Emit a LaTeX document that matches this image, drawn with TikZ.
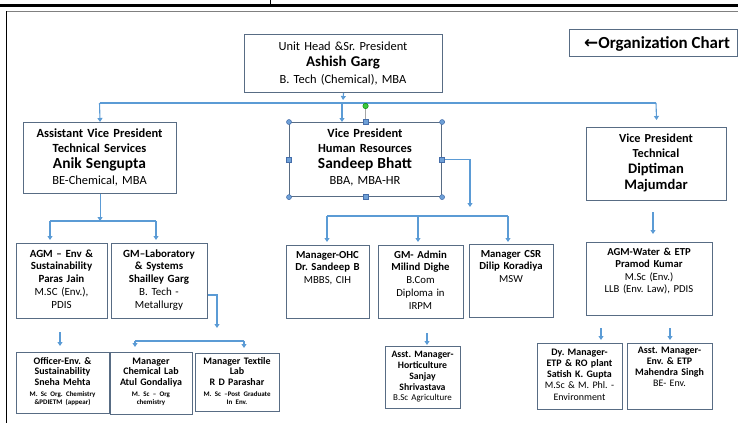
\documentclass[tikz,border=0pt]{standalone}
\usepackage{fontspec}
\setmainfont{Carlito}
\newfontfamily\symf{DejaVu Sans}
\usetikzlibrary{arrows.meta}
\definecolor{conn}{RGB}{91,155,213}
\definecolor{boxc}{RGB}{88,108,132}
\definecolor{hdl}{RGB}{110,160,215}
\definecolor{hdlb}{RGB}{70,110,170}
\definecolor{grn}{RGB}{60,200,60}
\tikzset{
 box/.style={draw=boxc, line width=1.1bp, fill=white, inner sep=0pt},
 txt/.style={inner sep=0pt, anchor=base},
 ln/.style={draw=conn, line width=1.1bp},
 arr/.style={ln, -{Triangle[width=5bp,length=4bp]}},
 frm/.style={draw=black, line width=1.3bp},
 hcirc/.style={circle, fill=hdl, draw=hdlb, line width=0.5bp, minimum size=5bp, inner sep=0pt},
 hsq/.style={rectangle, fill=hdl, draw=hdlb, line width=0.5bp, minimum size=5bp, inner sep=0pt},
}
\newcommand\obox[5]{%
 \pgfmathsetmacro\bw{#4-#2}\pgfmathsetmacro\bh{#5-#3}%
 \node[box, minimum width=\bw bp, minimum height=\bh bp, anchor=north west] (#1) at (#2,#3) {};}
\newcommand\bfs[1]{\fontsize{#1}{#1}\selectfont\bfseries}
\newcommand\tny[1]{{\fontsize{7}{7}\selectfont #1}}
\newcommand\ctr[1]{\frenchspacing\centering #1\par}
\begin{document}
\begin{tikzpicture}[x=1bp,y=-1bp]
\useasboundingbox (0,0) rectangle (738,423);
% frame
\draw[black, line width=2.5bp] (0,5.5) -- (738,5.5);
\draw[black, line width=1.5bp] (270.5,0) -- (270.5,5);
\draw[gray, line width=1bp] (6,11.5) -- (738,11.5);
\draw[frm] (6.5,11) -- (6.5,423);

% organization chart label
\obox{org}{569}{29}{736.5}{56}
\node[txt, font=\fontsize{17}{18}\selectfont\bfseries] (org-t) at (657,48) {{\symf\bfseries ←}Organization Chart};

% level 1
\obox{top}{244}{34}{442}{92}
\node[txt, text width=196bp, font=\fontsize{12.5}{17}\selectfont] (top-t) at (343,50)
 {\ctr{Unit Head \&Sr. President\\{\bfs{15}Ashish Garg}\\B. Tech (Chemical), MBA}};

% level 2
\obox{avp}{23}{122}{176}{193}
\node[txt, text width=151bp, font=\fontsize{12.5}{16}\selectfont] (avp-t) at (99.5,137)
 {\ctr{\textbf{Assistant Vice President}\\\textbf{Technical Services}\\{\bfs{15.5}Anik Sengupta}\\BE-Chemical, MBA}};
\obox{vphr}{289}{122}{441}{196}
\node[txt, text width=150bp, font=\fontsize{12.5}{16}\selectfont] (vphr-t) at (365,137)
 {\ctr{\textbf{Vice President}\\\textbf{Human Resources}\\{\bfs{15.5}Sandeep Bhatt}\\BBA, MBA-HR}};
\obox{vpt}{586}{127}{726}{200}
\node[txt, text width=138bp, font=\fontsize{12.3}{16}\selectfont\bfseries] (vpt-t) at (656,142)
 {\ctr{Vice President\\Technical\\{\bfs{14.6}Diptiman}\\{\bfs{14.6}Majumdar}}};

% level 3
\obox{agm}{16}{243}{107}{318}
\node[txt, text width=90bp, font=\fontsize{11}{12.8}\selectfont] (agm-t) at (61.5,257)
 {\ctr{\textbf{AGM – Env \&}\\\textbf{Sustainability}\\\textbf{Paras Jain}\\M.SC (Env.),\\PDIS}};
\obox{gml}{111}{243}{207}{318}
\node[txt, text width=95bp, font=\fontsize{11}{12.8}\selectfont] (gml-t) at (159,257)
 {\ctr{\textbf{GM–Laboratory}\\\textbf{\& Systems}\\\textbf{Shailley Garg}\\B. Tech -\\Metallurgy}};
\obox{ohc}{286}{245}{369}{318}
\node[txt, text width=82bp, font=\fontsize{10.8}{13}\selectfont] (ohc-t) at (327.5,258)
 {\ctr{\textbf{Manager-OHC}\\\textbf{Dr. Sandeep B}\\MBBS, CIH}};
\obox{adm}{378}{245}{463}{318}
\node[txt, text width=84bp, font=\fontsize{10.8}{13}\selectfont] (adm-t) at (420.5,258)
 {\ctr{\textbf{GM- Admin}\\\textbf{Milind Dighe}\\B.Com\\Diploma in\\IRPM}};
\obox{csr}{469}{244}{553}{317}
\node[txt, text width=83bp, font=\fontsize{10.8}{13}\selectfont] (csr-t) at (511,257)
 {\ctr{\textbf{Manager CSR}\\\textbf{Dilip Koradiya}\\MSW}};
\obox{agw}{586}{242}{712}{315}
\node[txt, text width=125bp, font=\fontsize{10.7}{12.7}\selectfont] (agw-t) at (649,255)
 {\ctr{\textbf{AGM-Water \& ETP}\\\textbf{Pramod Kumar}\\M.Sc (Env.)\\LLB (Env. Law), PDIS}};

% level 4
\obox{off}{16}{352}{109}{413}
\node[txt, text width=92bp, font=\fontsize{10}{11}\selectfont\bfseries] (off-t) at (62.5,364)
 {\ctr{Officer-Env. \&\\Sustainability\\Sneha Mehta\\\tny{M. Sc Org. Chemistry}\\[-3.5bp]\tny{\&PDIETM (appear)}}};
\obox{chl}{110}{352}{192}{414}
\node[txt, text width=81bp, font=\fontsize{10}{11}\selectfont\bfseries] (chl-t) at (151,364)
 {\ctr{Manager\\Chemical Lab\\Atul Gondaliya\\\tny{M. Sc – Org}\\[-3.5bp]\tny{chemistry}}};
\obox{tex}{195}{353}{279}{411}
\node[txt, text width=83bp, font=\fontsize{10}{11}\selectfont\bfseries] (tex-t) at (237,364)
 {\ctr{Manager Textile\\Lab\\R D Parashar\\\tny{M. Sc –Post Graduate}\\[-3.5bp]\tny{In Env.}}};
\obox{hor}{385}{346}{460}{408}
\node[txt, text width=74bp, font=\fontsize{9.8}{11.3}\selectfont\bfseries] (hor-t) at (422.5,357)
 {\ctr{Asst. Manager-\\Horticulture\\Sanjay\\Shrivastava\\[-1.3bp]{\mdseries\fontsize{9}{9}\selectfont B.Sc Agriculture}}};
\obox{dym}{537}{343}{622}{409}
\node[txt, text width=84bp, font=\fontsize{10}{11.3}\selectfont] (dym-t) at (579.5,355)
 {\ctr{\textbf{Dy. Manager-}\\\textbf{ETP \& RO plant}\\\textbf{Satish K. Gupta}\\M.Sc \& M. Phl. -\\Environment}};
\obox{ame}{627}{343}{712}{409}
\node[txt, text width=84bp, font=\fontsize{10}{11.3}\selectfont] (ame-t) at (669.5,353)
 {\ctr{\textbf{Asst. Manager-}\\\textbf{Env. \& ETP}\\\textbf{Mahendra Singh}\\BE- Env.}};

% connectors
\coordinate (j1) at (343,100);
\draw[arr] (top.south) -- (j1);
\coordinate (b1l) at (99.5,103);
\coordinate (b1r) at (656,103);
\coordinate (b1m) at (342,103);
\draw[ln] (b1l) -- (b1r);
\draw[arr] (b1l) -- (avp.north);
\draw[arr] (b1r) -- ([yshift=7bp]vpt.north);
\draw[arr] (b1m) -- (b1m |- vphr.north);

\coordinate (b2l) at (50,221);
\coordinate (b2r) at (156,221);
\draw[arr] (avp.south) -- (avp.south |- b2l);
\draw[ln] (b2l) -- (b2r);
\draw[arr] (b2l) -- ([yshift=3bp]b2l |- agm.north);
\draw[arr] (b2r) -- ([yshift=3bp]b2r |- gml.north);

\coordinate (c3) at (217,328);
\draw[arr] (gml.east |- 0,295) -| (c3);
\coordinate (b3l) at (135,341);
\coordinate (b3r) at (244,341);
\draw[ln] (b3l) -- (b3r);
\draw[arr] (b3l) -- ([yshift=5bp]b3l |- chl.north);
\draw[arr] (b3r) -- ([yshift=5bp]b3r |- tex.north);
\coordinate (o3) at (60,332);
\draw[arr] (o3) -- ([yshift=6bp]o3 |- off.north);

\coordinate (c4) at (470,207);
\draw[arr] (vphr.east) -| (c4);
\coordinate (b4l) at (327,216);
\coordinate (b4m) at (418,216);
\coordinate (b4r) at (508,216);
\draw[ln] (b4l) -- (b4r);
\draw[arr] (b4l) -- ([yshift=3bp]b4l |- ohc.north);
\draw[arr] (b4m) -- ([yshift=3bp]b4m |- adm.north);
\draw[arr] (b4r) -- ([yshift=2bp]b4r |- csr.north);

\coordinate (t5) at (653,212);
\draw[arr] (t5) -- ([yshift=8bp]t5 |- agw.north);
\coordinate (h5) at (427,333);
\draw[arr] (h5) -- ([yshift=1bp]h5 |- hor.north);
\coordinate (d5) at (601,328);
\coordinate (e5) at (670,328);
\draw[arr] (d5) -- ([yshift=3bp]d5 |- dym.north);
\draw[arr] (e5) -- ([yshift=3bp]e5 |- ame.north);

% selection handles on VP HR box
\draw[gray!70, line width=0.8bp] (vphr.north) -- ++(0,-16) node[circle, fill=grn, draw=green!50!black, line width=0.4bp, minimum size=5.5bp, inner sep=0pt] (rot) {};
\foreach \a in {north west, north east, south west, south east}
  \node[hcirc] at (vphr.\a) {};
\foreach \a in {north, south, east, west}
  \node[hsq] at (vphr.\a) {};
\end{tikzpicture}
\end{document}
